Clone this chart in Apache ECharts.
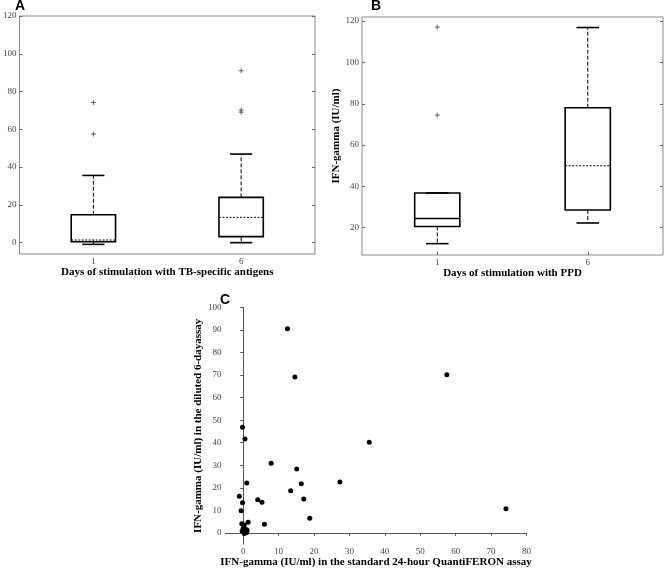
<!DOCTYPE html>
<html><head><meta charset="utf-8">
<script src="https://cdn.jsdelivr.net/npm/echarts@6/dist/echarts.min.js"></script>
<style>html,body{margin:0;padding:0;background:#fff}#c{width:664px;height:569px}</style>
</head><body><div id="c"></div>
<script>
// ---- data ----
const dayCategories = ['1', '6'];
const yTicksTB = [0, 20, 40, 60, 80, 100, 120];
const yTicksPPD = [20, 40, 60, 80, 100, 120];
const xTicksQFT = [0, 10, 20, 30, 40, 50, 60, 70, 80];
const yTicksSixDay = [0, 10, 20, 30, 40, 50, 60, 70, 80, 90, 100];
// [lower whisker, Q1, median, Q3, upper whisker]
const boxTB = [[-0.9, 0.5, 1.4, 14.8, 35.6], [0, 3.2, 13.4, 24.0, 46.9]];
const outliersTB = [[0, 74.2], [0, 57.5], [1, 91.0], [1, 70.2], [1, 69.1]];
const boxPPD = [[12.3, 20.6, 24.5, 36.8, 36.8], [22.3, 28.6, 50.0, 78.1, 116.9]];
const outliersPPD = [[0, 117.1], [0, 74.5]];
const qftValues = [12.5, 14.6, 57.5, -0.2, 0.5, 35.6, 7.9, 15.1, 1.0, 16.4, 27.3, 13.4, -1.1, 4.1, 5.3, -0.2, 17.1, -0.6, 18.8, 74.2, 6.0, 1.4,
  -0.4, 0.3, 0.1, 0.8, 1.0, 0.3, -0.3, 0.6, 1.1, 0.0];
const sixDayValues = [90.6, 69.2, 70.2, 46.9, 41.6, 40.2, 30.9, 28.3, 22.1, 21.8, 22.6, 18.7, 16.2, 14.7, 13.6, 13.4, 15.0, 9.8, 6.5, 10.7, 3.8, 4.7,
  4.0, 3.5, 0.5, 1.5, 0.2, -0.3, 0.8, 1.0, 1.2, 2.0];

// ---- styles ----
const medianStyleTB = ['dotted', 'dotted'];
const medianStylePPD = ['solid', 'dotted'];
const serif = '"Liberation Serif", "Times New Roman", serif';
const tickLabel = { fontFamily: serif, fontSize: 9, color: '#444' };
const titleText = { fontFamily: serif, fontSize: 11, fontWeight: 'bold', color: '#000' };

function boxRender(medianStyles) {
  return function (params, api) {
    const idx = api.value(0);
    const lo = api.value(1), q1 = api.value(2), med = api.value(3), q3 = api.value(4), hi = api.value(5);
    const band = api.size([1, 0])[0];
    const bw = band * 0.3, cw = band * 0.15;
    const x = api.coord([idx, q1])[0];
    const yLo = api.coord([idx, lo])[1], yQ1 = api.coord([idx, q1])[1], yMed = api.coord([idx, med])[1];
    const yQ3 = api.coord([idx, q3])[1], yHi = api.coord([idx, hi])[1];
    const dotted = medianStyles[params.dataIndex] === 'dotted';
    return {
      type: 'group', children: [
        { type: 'line', shape: { x1: x, y1: yQ3, x2: x, y2: yHi }, style: { stroke: '#000', lineWidth: 1, lineDash: [4, 2] } },
        { type: 'line', shape: { x1: x, y1: yQ1, x2: x, y2: yLo }, style: { stroke: '#000', lineWidth: 1, lineDash: [4, 2] } },
        { type: 'line', shape: { x1: x - cw / 2, y1: yHi, x2: x + cw / 2, y2: yHi }, style: { stroke: '#000', lineWidth: 1.6 } },
        { type: 'line', shape: { x1: x - cw / 2, y1: yLo, x2: x + cw / 2, y2: yLo }, style: { stroke: '#000', lineWidth: 1.6 } },
        { type: 'rect', shape: { x: x - bw / 2, y: yQ3, width: bw, height: yQ1 - yQ3 }, style: { fill: 'none', stroke: '#000', lineWidth: 1.6 } },
        { type: 'line', shape: { x1: x - bw / 2, y1: yMed, x2: x + bw / 2, y2: yMed },
          style: { stroke: '#000', lineWidth: dotted ? 1 : 1.5, lineDash: dotted ? [2, 1.5] : null } }
      ]
    };
  };
}

const plusSymbol = 'path://M0,4L8,4M4,0L4,8';

const option = {
  animation: false,
  backgroundColor: '#fff',
  grid: [
    { left: 13, top: 16, width: 302, height: 238, show: true, borderColor: '#888', borderWidth: 1, backgroundColor: 'transparent' },
    { left: 362, top: 17, width: 301, height: 238, show: true, borderColor: '#888', borderWidth: 1, backgroundColor: 'transparent' },
    { left: 225.5, top: 307.5, width: 301, height: 238 }
  ],
  xAxis: [
    { type: 'category', gridIndex: 0, data: dayCategories, boundaryGap: true,
      axisLine: { show: false }, axisTick: { show: true, inside: true, alignWithLabel: true, length: 3, lineStyle: { color: '#666' } },
      axisLabel: Object.assign({ margin: 3 }, tickLabel),
      name: 'Days of stimulation with TB-specific antigens', nameLocation: 'middle', nameGap: 12, nameTextStyle: titleText },
    { type: 'category', gridIndex: 1, data: dayCategories, boundaryGap: true,
      axisLine: { show: false }, axisTick: { show: true, inside: true, alignWithLabel: true, length: 3, lineStyle: { color: '#666' } },
      axisLabel: Object.assign({ margin: 3 }, tickLabel),
      name: 'Days of stimulation with PPD', nameLocation: 'middle', nameGap: 12, nameTextStyle: titleText },
    { type: 'value', gridIndex: 2, min: -5, max: 80,
      axisLine: { show: true, lineStyle: { color: '#555', width: 1 } },
      axisTick: { show: true, inside: false, length: 3, customValues: xTicksQFT, lineStyle: { color: '#555' } },
      axisLabel: Object.assign({ margin: 3, customValues: xTicksQFT }, tickLabel),
      splitLine: { show: false },
      name: 'IFN-gamma (IU/ml) in the standard 24-hour QuantiFERON assay', nameLocation: 'middle', nameGap: 12, nameTextStyle: titleText }
  ],
  yAxis: [
    { type: 'value', gridIndex: 0, min: -6, max: 120,
      axisLine: { show: false }, splitLine: { show: false },
      axisTick: { show: true, inside: true, length: 3, customValues: yTicksTB, lineStyle: { color: '#666' } },
      axisLabel: Object.assign({ margin: 3, customValues: yTicksTB }, tickLabel) },
    { type: 'value', gridIndex: 0, position: 'right', min: -6, max: 120,
      axisLine: { show: false }, splitLine: { show: false },
      axisTick: { show: true, inside: true, length: 3, customValues: yTicksTB, lineStyle: { color: '#666' } },
      axisLabel: { show: false } },
    { type: 'value', gridIndex: 1, min: 6.8, max: 122,
      axisLine: { show: false }, splitLine: { show: false },
      axisTick: { show: true, inside: true, length: 3, customValues: yTicksPPD, lineStyle: { color: '#666' } },
      axisLabel: Object.assign({ margin: 3, customValues: yTicksPPD }, tickLabel),
      name: 'IFN-gamma (IU/ml)', nameLocation: 'middle', nameGap: 20, nameTextStyle: titleText },
    { type: 'value', gridIndex: 1, position: 'right', min: 6.8, max: 122,
      axisLine: { show: false }, splitLine: { show: false },
      axisTick: { show: true, inside: true, length: 3, customValues: yTicksPPD, lineStyle: { color: '#666' } },
      axisLabel: { show: false } },
    { type: 'value', gridIndex: 2, min: -5, max: 100,
      axisLine: { show: true, lineStyle: { color: '#555', width: 1 } }, splitLine: { show: false },
      axisTick: { show: true, inside: false, length: 3, customValues: yTicksSixDay, lineStyle: { color: '#555' } },
      axisLabel: Object.assign({ margin: 4, customValues: yTicksSixDay }, tickLabel),
      name: 'IFN-gamma (IU/ml) in the diluted 6-dayassay', nameLocation: 'middle', nameGap: 18, nameTextStyle: titleText }
  ],
  series: [
    { type: 'custom', xAxisIndex: 0, yAxisIndex: 0, renderItem: boxRender(medianStyleTB),
      encode: { x: 0, y: [1, 2, 3, 4, 5] }, data: boxTB.map((b, i) => [i].concat(b)) },
    { type: 'scatter', xAxisIndex: 0, yAxisIndex: 0, data: outliersTB, symbol: plusSymbol, symbolSize: 5,
      itemStyle: { color: 'none', borderColor: '#444', borderWidth: 1 } },
    { type: 'custom', xAxisIndex: 1, yAxisIndex: 2, renderItem: boxRender(medianStylePPD),
      encode: { x: 0, y: [1, 2, 3, 4, 5] }, data: boxPPD.map((b, i) => [i].concat(b)) },
    { type: 'scatter', xAxisIndex: 1, yAxisIndex: 2, data: outliersPPD, symbol: plusSymbol, symbolSize: 5,
      itemStyle: { color: 'none', borderColor: '#444', borderWidth: 1 } },
    { type: 'scatter', xAxisIndex: 2, yAxisIndex: 4, data: qftValues.map((v, i) => [v, sixDayValues[i]]),
      symbol: 'circle', symbolSize: 5, itemStyle: { color: '#000', opacity: 1 } }
  ],
  graphic: [
    { type: 'text', x: 15, y: -1, style: { text: 'A', font: 'bold 14px "Liberation Sans", Arial, sans-serif', fill: '#000' } },
    { type: 'text', x: 371, y: -1, style: { text: 'B', font: 'bold 14px "Liberation Sans", Arial, sans-serif', fill: '#000' } },
    { type: 'text', x: 220, y: 293, style: { text: 'C', font: 'bold 14px "Liberation Sans", Arial, sans-serif', fill: '#000' } }
  ]
};
const chart = echarts.init(document.getElementById('c'), null, { renderer: 'canvas' });
chart.setOption(option);
</script>
</body></html>
